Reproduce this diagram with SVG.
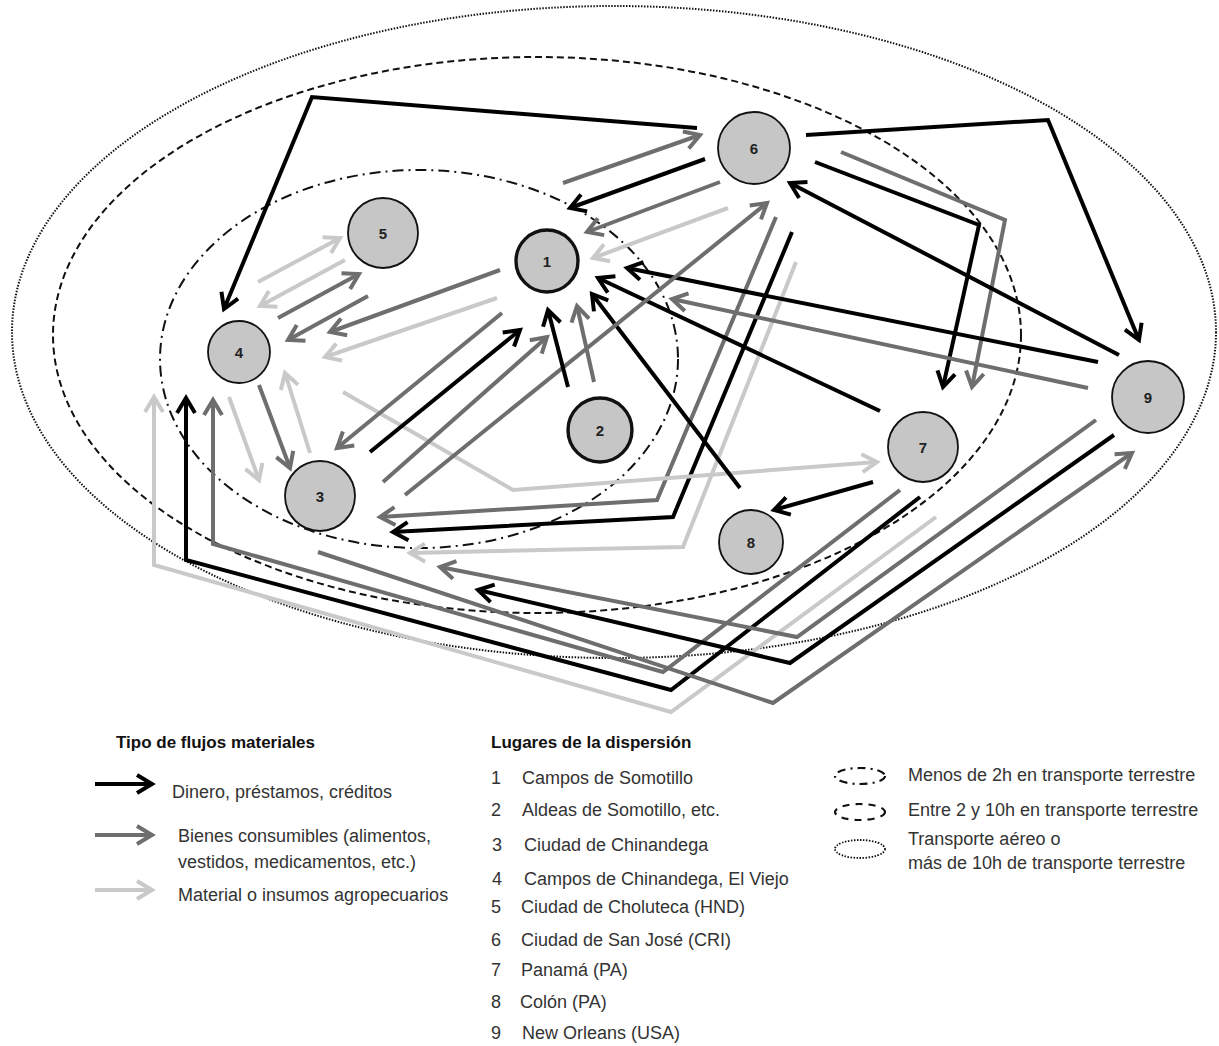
<svg xmlns="http://www.w3.org/2000/svg" width="1219" height="1046" viewBox="0 0 1219 1046">
<defs>
<style>
.ring{fill:none;stroke:#111}
.c path{fill:none;stroke-width:4;stroke-linejoin:miter}
.b{stroke:#000}
.d{stroke:#6e6e6e}
.l{stroke:#c9c9c9}
.node circle{fill:#c6c6c6;stroke:#111;stroke-width:1.8}
.node.thick circle{stroke-width:3.4}
.node text{font-family:"Liberation Sans",Arial,sans-serif;font-weight:bold;font-size:15px;text-anchor:middle;fill:#222}
.lg{font-family:"Liberation Sans",Arial,sans-serif;font-size:18px;fill:#333}
.lt{font-family:"Liberation Sans",Arial,sans-serif;font-size:17px;font-weight:bold;fill:#111}
</style>
<marker id="mb" viewBox="-20 -12 26 24" refX="0" refY="0" markerWidth="26" markerHeight="24" markerUnits="userSpaceOnUse" orient="auto" overflow="visible"><path d="M-15,-9 L0,0 L-15,9" fill="none" stroke="#000" stroke-width="4"/></marker>
<marker id="md" viewBox="-20 -12 26 24" refX="0" refY="0" markerWidth="26" markerHeight="24" markerUnits="userSpaceOnUse" orient="auto" overflow="visible"><path d="M-15,-9 L0,0 L-15,9" fill="none" stroke="#6e6e6e" stroke-width="4"/></marker>
<marker id="ml" viewBox="-20 -12 26 24" refX="0" refY="0" markerWidth="26" markerHeight="24" markerUnits="userSpaceOnUse" orient="auto" overflow="visible"><path d="M-15,-9 L0,0 L-15,9" fill="none" stroke="#c9c9c9" stroke-width="4"/></marker>
</defs>
<rect width="1219" height="1046" fill="#fff"/>

<g id="rings">
<ellipse class="ring" cx="614" cy="332" rx="602" ry="326" stroke-width="2" stroke-dasharray="1.5 1.5"/>
<ellipse class="ring" cx="537" cy="335" rx="484" ry="278" stroke-width="2" stroke-dasharray="7 4"/>
<ellipse class="ring" cx="419" cy="359" rx="259" ry="189" stroke-width="2" stroke-dasharray="11 5 2 5"/>
</g>

<g id="connectors" class="c">
<path class="l" marker-end="url(#ml)" d="M936,517 L671,712 L154,565 L154,397"/>
<path class="d" marker-end="url(#md)" d="M900,490 L663,672 L213,544 L213,400"/>
<path class="b" marker-end="url(#mb)" d="M920,497 L671,690 L186,560 L186,398"/>
<path class="d" marker-end="url(#md)" d="M318,552 L773,703 L1132,453"/>
<path class="d" marker-end="url(#md)" d="M1096,420 L797,637 L440,567"/>
<path class="b" marker-end="url(#mb)" d="M1114,435 L790,663 L478,590"/>
<path class="l" marker-end="url(#ml)" d="M796,262 L683,547 L410,553"/>
<path class="d" marker-end="url(#md)" d="M776,217 L657,500 L380,517"/>
<path class="b" marker-end="url(#mb)" d="M792,232 L673,517 L393,532"/>
<path class="l" marker-end="url(#ml)" d="M343,392 L513,490 L877,462"/>
<path class="b" marker-end="url(#mb)" d="M697,128 L312,97 L224,309"/>
<path class="b" marker-end="url(#mb)" d="M806,135 L1048,120 L1139,340"/>
<path class="b" marker-end="url(#mb)" d="M815,162 L979,225 L943,387"/>
<path class="d" marker-end="url(#md)" d="M841,152 L1005,220 L972,387"/>
<path class="b" marker-end="url(#mb)" d="M1119,355 L790,183"/>
<path class="b" marker-end="url(#mb)" d="M1098,362 L627,268"/>
<path class="d" marker-end="url(#md)" d="M1088,388 L672,299"/>
<path class="b" marker-end="url(#mb)" d="M880,411 L598,278"/>
<path class="b" marker-end="url(#mb)" d="M740,488 L592,294"/>
<path class="b" marker-end="url(#mb)" d="M873,482 L774,510"/>
<path class="d" marker-end="url(#md)" d="M563,183 L700,135"/>
<path class="b" marker-end="url(#mb)" d="M705,159 L570,208"/>
<path class="d" marker-end="url(#md)" d="M720,182 L587,232"/>
<path class="l" marker-end="url(#ml)" d="M728,208 L593,258"/>
<path class="d" marker-end="url(#md)" d="M405,495 L767,203"/>
<path class="b" marker-end="url(#mb)" d="M370,452 L520,330"/>
<path class="d" marker-end="url(#md)" d="M383,482 L547,337"/>
<path class="d" marker-end="url(#md)" d="M502,313 L337,448"/>
<path class="d" marker-end="url(#md)" d="M500,270 L330,332"/>
<path class="l" marker-end="url(#ml)" d="M497,298 L325,357"/>
<path class="b" marker-end="url(#mb)" d="M568,387 L548,310"/>
<path class="d" marker-end="url(#md)" d="M594,382 L577,306"/>
<path class="l" marker-end="url(#ml)" d="M258,282 L340,238"/>
<path class="l" marker-end="url(#ml)" d="M345,260 L260,306"/>
<path class="d" marker-end="url(#md)" d="M278,318 L359,274"/>
<path class="d" marker-end="url(#md)" d="M368,296 L288,340"/>
<path class="d" marker-end="url(#md)" d="M259,385 L290,468"/>
<path class="l" marker-end="url(#ml)" d="M310,453 L285,373"/>
<path class="l" marker-end="url(#ml)" d="M229,397 L259,480"/>
</g>

<g id="n1" class="node thick"><circle cx="547" cy="261" r="31"/><text x="547" y="267">1</text></g>
<g id="n2" class="node thick"><circle cx="600" cy="430" r="32"/><text x="600" y="436">2</text></g>
<g id="n3" class="node"><circle cx="320" cy="496" r="35"/><text x="320" y="502">3</text></g>
<g id="n4" class="node"><circle cx="239" cy="352" r="31"/><text x="239" y="358">4</text></g>
<g id="n5" class="node"><circle cx="383" cy="233" r="35"/><text x="383" y="239">5</text></g>
<g id="n6" class="node"><circle cx="754" cy="148" r="36"/><text x="754" y="154">6</text></g>
<g id="n7" class="node"><circle cx="923" cy="447" r="35"/><text x="923" y="453">7</text></g>
<g id="n8" class="node"><circle cx="751" cy="542" r="32"/><text x="751" y="548">8</text></g>
<g id="n9" class="node"><circle cx="1148" cy="397" r="36"/><text x="1148" y="403">9</text></g>

<g id="legend-flujos">
<text class="lt" x="116" y="748">Tipo de flujos materiales</text>
<path d="M95,784 L152,784" stroke="#000" stroke-width="4" fill="none" marker-end="url(#mb)"/>
<path d="M95,835 L152,835" stroke="#6e6e6e" stroke-width="4" fill="none" marker-end="url(#md)"/>
<path d="M95,890 L152,890" stroke="#c9c9c9" stroke-width="4" fill="none" marker-end="url(#ml)"/>
<text class="lg" x="172" y="798">Dinero, préstamos, créditos</text>
<text class="lg" x="178" y="842">Bienes consumibles (alimentos,</text>
<text class="lg" x="178" y="868">vestidos, medicamentos, etc.)</text>
<text class="lg" x="178" y="901">Material o insumos agropecuarios</text>
</g>

<g id="legend-lugares">
<text class="lt" x="491" y="748">Lugares de la dispersión</text>
<text class="lg" x="491" y="784">1</text><text class="lg" x="522" y="784">Campos de Somotillo</text>
<text class="lg" x="491" y="816">2</text><text class="lg" x="522" y="816">Aldeas de Somotillo, etc.</text>
<text class="lg" x="492" y="851">3</text><text class="lg" x="524" y="851">Ciudad de Chinandega</text>
<text class="lg" x="492" y="885">4</text><text class="lg" x="524" y="885">Campos de Chinandega, El Viejo</text>
<text class="lg" x="491" y="913">5</text><text class="lg" x="521" y="913">Ciudad de Choluteca (HND)</text>
<text class="lg" x="491" y="946">6</text><text class="lg" x="521" y="946">Ciudad de San José (CRI)</text>
<text class="lg" x="491" y="976">7</text><text class="lg" x="521" y="976">Panamá (PA)</text>
<text class="lg" x="491" y="1008">8</text><text class="lg" x="520" y="1008">Colón (PA)</text>
<text class="lg" x="491" y="1039">9</text><text class="lg" x="522" y="1039">New Orleans (USA)</text>
</g>

<g id="legend-rings">
<ellipse cx="860" cy="776" rx="25" ry="8" fill="none" stroke="#111" stroke-width="2.2" stroke-dasharray="8 5 2 5"/>
<ellipse cx="860" cy="812" rx="25" ry="8" fill="none" stroke="#111" stroke-width="2.2" stroke-dasharray="7 6"/>
<ellipse cx="860" cy="849" rx="25" ry="9" fill="none" stroke="#111" stroke-width="1.8" stroke-dasharray="1.5 1.5"/>
<text class="lg" x="908" y="781">Menos de 2h en transporte terrestre</text>
<text class="lg" x="908" y="816">Entre 2 y 10h en transporte terrestre</text>
<text class="lg" x="908" y="845">Transporte aéreo o</text>
<text class="lg" x="908" y="869">más de 10h de transporte terrestre</text>
</g>
</svg>
